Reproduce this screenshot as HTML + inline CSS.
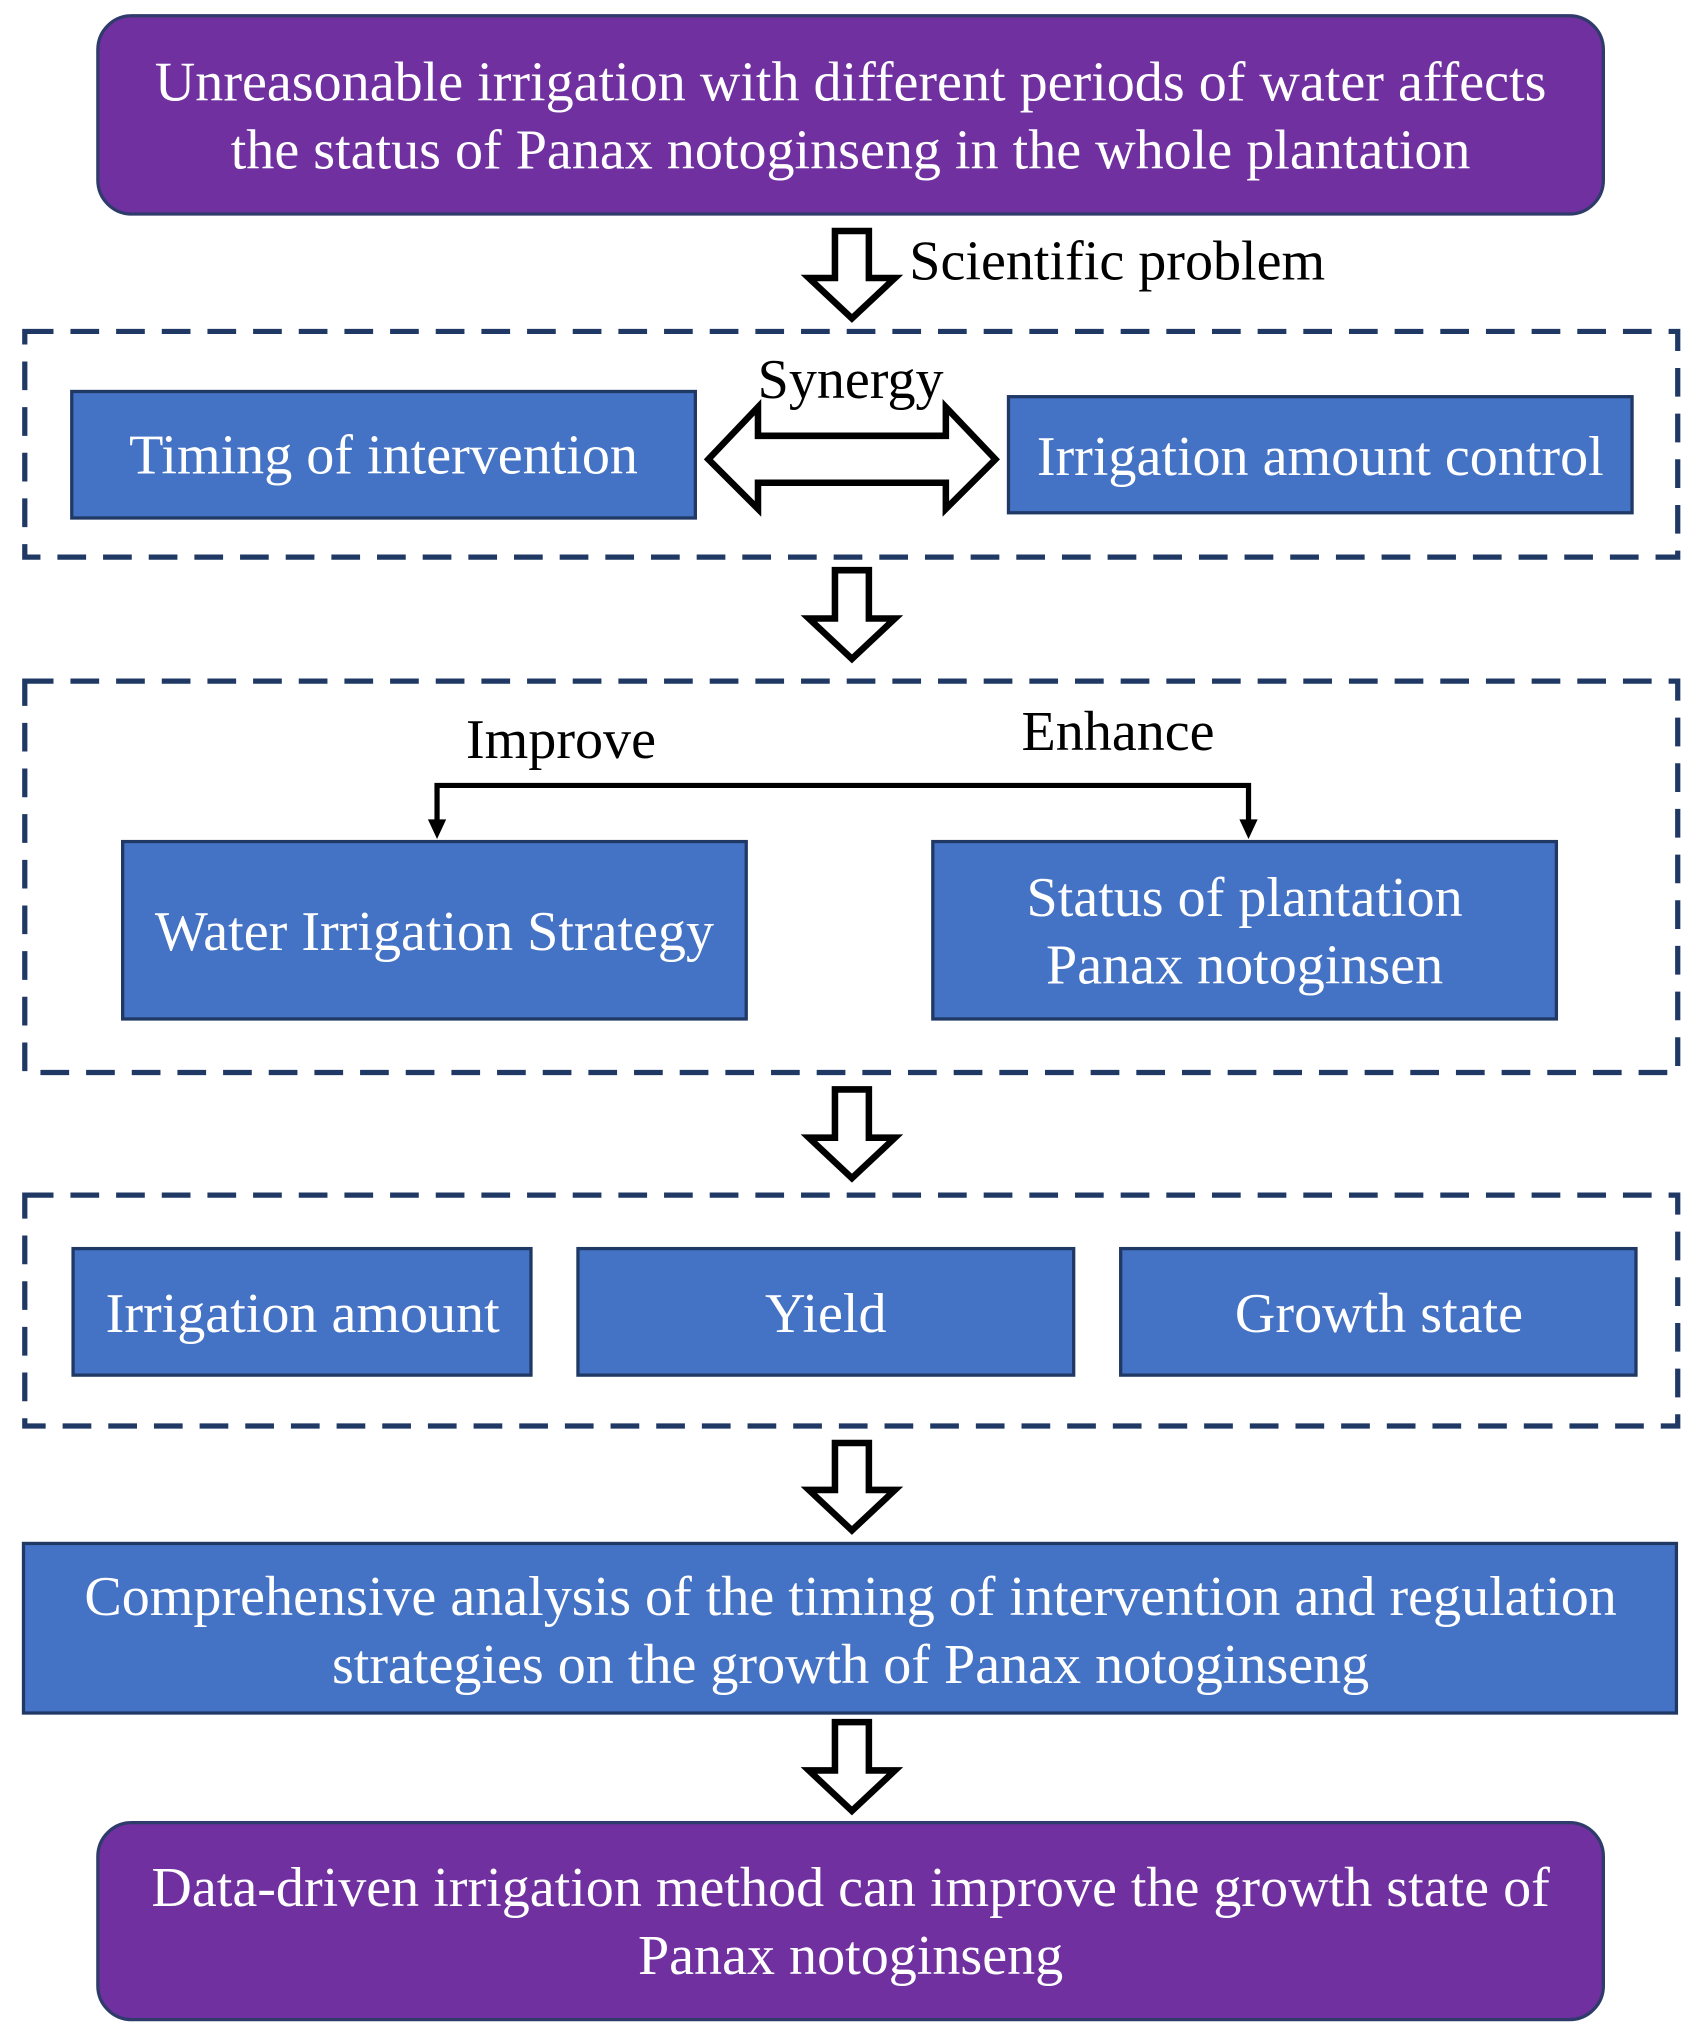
<!DOCTYPE html>
<html><head><meta charset="utf-8"><style>
html,body{margin:0;padding:0;background:#fff;}
svg{display:block;}
text{font-family:"Liberation Serif",serif;}
</style></head><body>
<svg width="1696" height="2036" viewBox="0 0 1300 1560.5" xmlns="http://www.w3.org/2000/svg">
<rect width="1300" height="1561" fill="#fff"/>
<rect x="75" y="12" width="1154" height="152" rx="26" fill="#7030A0" stroke="#2F3B6B" stroke-width="2.5"/>
<text x="652" y="77" font-size="43" fill="#fff" text-anchor="middle">Unreasonable irrigation with different periods of water affects</text>
<text x="652" y="129" font-size="43" fill="#fff" text-anchor="middle">the status of Panax notoginseng in the whole plantation</text>

<g fill="#fff" stroke="#000" stroke-width="5" stroke-linejoin="miter">
<path d="M640,177 L666,177 L666,213 L686,213 L653,244 L620,213 L640,213 Z"/>
<path d="M640,437 L666,437 L666,474 L686,474 L653,505 L620,474 L640,474 Z"/>
<path d="M640,835 L666,835 L666,872 L686,872 L653,903 L620,872 L640,872 Z"/>
<path d="M640,1106 L666,1106 L666,1142 L686,1142 L653,1173 L620,1142 L640,1142 Z"/>
<path d="M640,1320 L666,1320 L666,1357 L686,1357 L653,1388 L620,1357 L640,1357 Z"/>
<path d="M543,352 L581,312 L581,334 L725,334 L725,312 L763,352 L725,390 L725,370 L581,370 L581,390 Z"/>
</g>
<text x="697" y="214" font-size="43" fill="#000">Scientific problem</text>

<g fill="none" stroke="#1F3864" stroke-width="4" stroke-dasharray="22 13">
<rect x="19" y="254" width="1267" height="173"/>
<rect x="19" y="522" width="1267" height="300"/>
<rect x="19" y="916" width="1267" height="177"/>
</g>

<g fill="#4472C4" stroke="#1F3864" stroke-width="2.5">
<rect x="55" y="300" width="478" height="97"/>
<rect x="773" y="304" width="478" height="89"/>
<rect x="94" y="645" width="478" height="136"/>
<rect x="715" y="645" width="478" height="136"/>
<rect x="56" y="957" width="351" height="97"/>
<rect x="443" y="957" width="380" height="97"/>
<rect x="859" y="957" width="395" height="97"/>
<rect x="18" y="1183" width="1267" height="130"/>
</g>
<text x="652" y="305" font-size="43" fill="#000" text-anchor="middle">Synergy</text>
<g font-size="43" fill="#fff" text-anchor="middle">
<text x="294" y="363">Timing of intervention</text>
<text x="1012" y="364">Irrigation amount control</text>
<text x="333" y="728">Water Irrigation Strategy</text>
<text x="954" y="702">Status of plantation</text>
<text x="954" y="754">Panax notoginsen</text>
<text x="232" y="1021">Irrigation amount</text>
<text x="633" y="1021">Yield</text>
<text x="1057" y="1021">Growth state</text>
<text x="652" y="1238">Comprehensive analysis of the timing of intervention and regulation</text>
<text x="652" y="1290">strategies on the growth of Panax notoginseng</text>
</g>
<text x="430" y="581" font-size="43" fill="#000" text-anchor="middle">Improve</text>
<text x="857" y="575" font-size="43" fill="#000" text-anchor="middle">Enhance</text>
<path d="M335,630 L335,602 L957,602 L957,630" fill="none" stroke="#000" stroke-width="4"/>
<path d="M328,628 L342,628 L335,643 Z M950,628 L964,628 L957,643 Z" fill="#000"/>

<rect x="75" y="1397" width="1154" height="151" rx="26" fill="#7030A0" stroke="#2F3B6B" stroke-width="2.5"/>
<text x="652" y="1461" font-size="43" fill="#fff" text-anchor="middle">Data-driven irrigation method can improve the growth state of</text>
<text x="652" y="1513" font-size="43" fill="#fff" text-anchor="middle">Panax notoginseng</text>
</svg>
</body></html>
